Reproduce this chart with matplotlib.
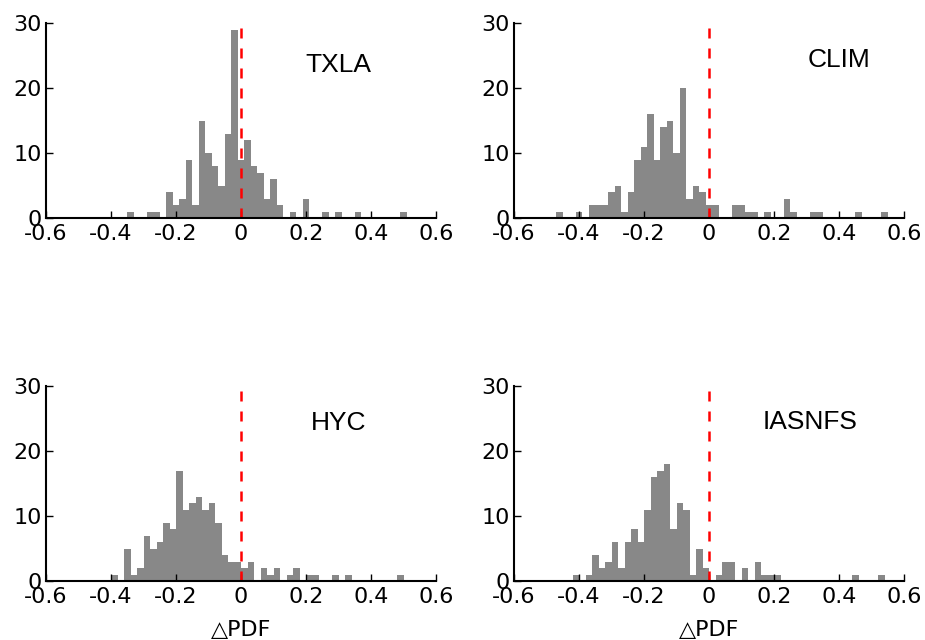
import numpy as np
from matplotlib import pyplot as plt

# bin centres and counts (bin width 0.02)
txla_x = [-0.34, -0.28, -0.26, -0.22, -0.20, -0.18, -0.16, -0.14, -0.12, -0.10,
          -0.08, -0.06, -0.04, -0.02, 0.00, 0.02, 0.04, 0.06, 0.08, 0.10,
          0.12, 0.16, 0.20, 0.26, 0.30, 0.36, 0.50]
txla_n = [1, 1, 1, 4, 2, 3, 9, 2, 15, 10,
          8, 5, 13, 29, 9, 12, 8, 7, 3, 6,
          2, 1, 3, 1, 1, 1, 1]

clim_x = [-0.46, -0.40, -0.36, -0.34, -0.32, -0.30, -0.28, -0.26, -0.24, -0.22,
          -0.20, -0.18, -0.16, -0.14, -0.12, -0.10, -0.08, -0.06, -0.04, -0.02,
          0.00, 0.02, 0.08, 0.10, 0.12, 0.14, 0.18, 0.24, 0.26, 0.32,
          0.34, 0.46, 0.54]
clim_n = [1, 1, 2, 2, 2, 4, 5, 1, 4, 9,
          11, 16, 9, 14, 15, 10, 20, 3, 5, 4,
          2, 2, 2, 2, 1, 1, 1, 3, 1, 1,
          1, 1, 1]

hyc_x = [-0.39, -0.35, -0.33, -0.31, -0.29, -0.27, -0.25, -0.23, -0.21, -0.19,
         -0.17, -0.15, -0.13, -0.11, -0.09, -0.07, -0.05, -0.03, -0.01, 0.01,
         0.03, 0.07, 0.09, 0.11, 0.15, 0.17, 0.21, 0.23, 0.29, 0.33, 0.49]
hyc_n = [1, 5, 1, 2, 7, 5, 6, 9, 8, 17,
         11, 12, 13, 11, 12, 9, 4, 3, 3, 2,
         3, 2, 1, 2, 1, 2, 1, 1, 1, 1, 1]

iasnfs_x = [-0.41, -0.37, -0.35, -0.33, -0.31, -0.29, -0.27, -0.25, -0.23, -0.21,
            -0.19, -0.17, -0.15, -0.13, -0.11, -0.09, -0.07, -0.05, -0.03, -0.01,
            0.03, 0.05, 0.07, 0.11, 0.15, 0.17, 0.19, 0.21, 0.45, 0.53]
iasnfs_n = [1, 1, 4, 2, 3, 6, 2, 6, 8, 6,
            11, 16, 17, 18, 8, 12, 11, 1, 5, 2,
            1, 3, 3, 2, 3, 1, 1, 1, 1, 1]

names = ["TXLA", "CLIM", "HYC", "IASNFS"]
xticks = [-0.6, -0.4, -0.2, 0, 0.2, 0.4, 0.6]
xticklabels = ["-0.6", "-0.4", "-0.2", "0", "0.2", "0.4", "0.6"]
yticks = [0, 10, 20, 30]

panels = [
    (txla_x, txla_n, [46, 23], (0.30, 23.5)),
    (clim_x, clim_n, [514, 23], (0.40, 24.3)),
    (hyc_x, hyc_n, [46, 386], (0.30, 24.3)),
    (iasnfs_x, iasnfs_n, [514, 386], (0.31, 24.5)),
]

W, H = 925, 640
fig = plt.figure(figsize=(W / 100, H / 100), dpi=100)

for i, (bx, bn, (px, py), (tx, ty)) in enumerate(panels):
    ax = fig.add_axes([px / W, 1 - (py + 195) / H, 390 / W, 195 / H])
    ax.bar(bx, bn, width=0.02, color="#888888", linewidth=0)
    ax.plot([0, 0], [0, 30], color="red", linestyle=(0, (4, 4)), linewidth=1.8)
    ax.set_xlim(-0.6, 0.6)
    ax.set_ylim(0, 30)
    ax.set_xticks(xticks)
    ax.set_xticklabels(xticklabels)
    ax.set_yticks(yticks)
    for s in ["top", "right"]:
        ax.spines[s].set_visible(False)
    for s in ["left", "bottom"]:
        ax.spines[s].set_linewidth(1.5)
    ax.tick_params(direction="in", length=5, width=1, labelsize=16)
    ax.tick_params(axis="x", pad=4)
    ax.tick_params(axis="y", pad=3)
    ax.text(tx, ty, names[i], fontsize=19, family="Liberation Sans",
            ha="center", va="center")
    if i >= 2:
        ax.set_xlabel("\u25b3PDF", fontsize=16, labelpad=10)

fig.savefig("out.png", dpi=100)
